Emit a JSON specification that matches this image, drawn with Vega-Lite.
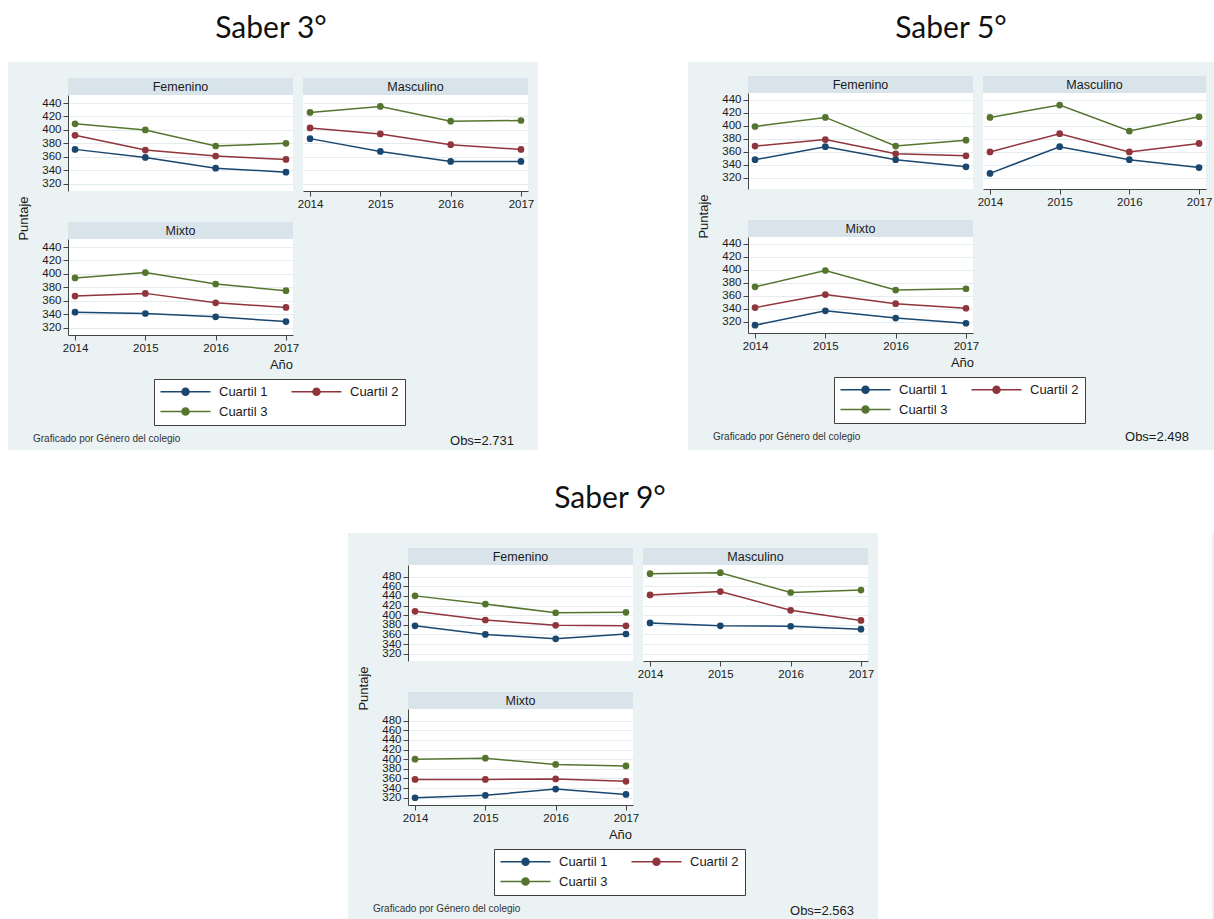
{
"$schema": "https://vega.github.io/schema/vega-lite/v6.json",
"background": "#eaf2f3",
"padding": 0,
"config": {
  "view": {"stroke": null},
  "font": "Liberation Sans",
  "title": {"font": "Liberation Sans", "fontWeight": "normal", "color": "#1a1a1a"},
  "axis": {"labelFont": "Liberation Sans", "labelFontSize": 11.5, "labelColor": "#1a1a1a", "titleFont": "Liberation Sans", "titleFontSize": 13, "titleFontWeight": "normal", "titleColor": "#1a1a1a", "domainColor": "#444444", "tickColor": "#444444", "tickSize": 5, "labelPadding": 2, "titlePadding": 11, "gridColor": "#e4ecef", "labelOverlap": false, "labelFlush": false},
  "axisX": {"grid": false},
  "axisY": {"grid": true},
  "legend": {"columns": 2, "direction": "horizontal", "symbolType": "M-5,0H5M-0.7,0A0.7,0.7,0,1,1,0.7,0A0.7,0.7,0,1,1,-0.7,0Z", "symbolSize": 100, "symbolStrokeWidth": 1.5, "symbolOffset": 19, "labelOffset": 27, "labelFontSize": 13, "labelFont": "Liberation Sans", "labelColor": "#1a1a1a", "columnPadding": 20, "rowPadding": 6, "padding": 6, "fillColor": "#ffffff", "strokeColor": "#404040", "labelLimit": 200}
},
"datasets": {
  "s3": [
    {"genero":"Femenino","anio":2014,"cuartil":"Cuartil 1","puntaje":371},{"genero":"Femenino","anio":2015,"cuartil":"Cuartil 1","puntaje":359},{"genero":"Femenino","anio":2016,"cuartil":"Cuartil 1","puntaje":343},{"genero":"Femenino","anio":2017,"cuartil":"Cuartil 1","puntaje":337},
    {"genero":"Femenino","anio":2014,"cuartil":"Cuartil 2","puntaje":392},{"genero":"Femenino","anio":2015,"cuartil":"Cuartil 2","puntaje":370},{"genero":"Femenino","anio":2016,"cuartil":"Cuartil 2","puntaje":361},{"genero":"Femenino","anio":2017,"cuartil":"Cuartil 2","puntaje":356},
    {"genero":"Femenino","anio":2014,"cuartil":"Cuartil 3","puntaje":409},{"genero":"Femenino","anio":2015,"cuartil":"Cuartil 3","puntaje":400},{"genero":"Femenino","anio":2016,"cuartil":"Cuartil 3","puntaje":376},{"genero":"Femenino","anio":2017,"cuartil":"Cuartil 3","puntaje":380},
    {"genero":"Masculino","anio":2014,"cuartil":"Cuartil 1","puntaje":387},{"genero":"Masculino","anio":2015,"cuartil":"Cuartil 1","puntaje":368},{"genero":"Masculino","anio":2016,"cuartil":"Cuartil 1","puntaje":353},{"genero":"Masculino","anio":2017,"cuartil":"Cuartil 1","puntaje":353},
    {"genero":"Masculino","anio":2014,"cuartil":"Cuartil 2","puntaje":403},{"genero":"Masculino","anio":2015,"cuartil":"Cuartil 2","puntaje":394},{"genero":"Masculino","anio":2016,"cuartil":"Cuartil 2","puntaje":378},{"genero":"Masculino","anio":2017,"cuartil":"Cuartil 2","puntaje":371},
    {"genero":"Masculino","anio":2014,"cuartil":"Cuartil 3","puntaje":426},{"genero":"Masculino","anio":2015,"cuartil":"Cuartil 3","puntaje":435},{"genero":"Masculino","anio":2016,"cuartil":"Cuartil 3","puntaje":413},{"genero":"Masculino","anio":2017,"cuartil":"Cuartil 3","puntaje":414},
    {"genero":"Mixto","anio":2014,"cuartil":"Cuartil 1","puntaje":343},{"genero":"Mixto","anio":2015,"cuartil":"Cuartil 1","puntaje":341},{"genero":"Mixto","anio":2016,"cuartil":"Cuartil 1","puntaje":336},{"genero":"Mixto","anio":2017,"cuartil":"Cuartil 1","puntaje":329},
    {"genero":"Mixto","anio":2014,"cuartil":"Cuartil 2","puntaje":367},{"genero":"Mixto","anio":2015,"cuartil":"Cuartil 2","puntaje":371},{"genero":"Mixto","anio":2016,"cuartil":"Cuartil 2","puntaje":357},{"genero":"Mixto","anio":2017,"cuartil":"Cuartil 2","puntaje":350},
    {"genero":"Mixto","anio":2014,"cuartil":"Cuartil 3","puntaje":394},{"genero":"Mixto","anio":2015,"cuartil":"Cuartil 3","puntaje":402},{"genero":"Mixto","anio":2016,"cuartil":"Cuartil 3","puntaje":385},{"genero":"Mixto","anio":2017,"cuartil":"Cuartil 3","puntaje":375}
  ],
  "s5": [
    {"genero":"Femenino","anio":2014,"cuartil":"Cuartil 1","puntaje":348},{"genero":"Femenino","anio":2015,"cuartil":"Cuartil 1","puntaje":368},{"genero":"Femenino","anio":2016,"cuartil":"Cuartil 1","puntaje":348},{"genero":"Femenino","anio":2017,"cuartil":"Cuartil 1","puntaje":337},
    {"genero":"Femenino","anio":2014,"cuartil":"Cuartil 2","puntaje":369},{"genero":"Femenino","anio":2015,"cuartil":"Cuartil 2","puntaje":379},{"genero":"Femenino","anio":2016,"cuartil":"Cuartil 2","puntaje":357},{"genero":"Femenino","anio":2017,"cuartil":"Cuartil 2","puntaje":354},
    {"genero":"Femenino","anio":2014,"cuartil":"Cuartil 3","puntaje":399},{"genero":"Femenino","anio":2015,"cuartil":"Cuartil 3","puntaje":413},{"genero":"Femenino","anio":2016,"cuartil":"Cuartil 3","puntaje":369},{"genero":"Femenino","anio":2017,"cuartil":"Cuartil 3","puntaje":378},
    {"genero":"Masculino","anio":2014,"cuartil":"Cuartil 1","puntaje":327},{"genero":"Masculino","anio":2015,"cuartil":"Cuartil 1","puntaje":368},{"genero":"Masculino","anio":2016,"cuartil":"Cuartil 1","puntaje":348},{"genero":"Masculino","anio":2017,"cuartil":"Cuartil 1","puntaje":336},
    {"genero":"Masculino","anio":2014,"cuartil":"Cuartil 2","puntaje":360},{"genero":"Masculino","anio":2015,"cuartil":"Cuartil 2","puntaje":388},{"genero":"Masculino","anio":2016,"cuartil":"Cuartil 2","puntaje":360},{"genero":"Masculino","anio":2017,"cuartil":"Cuartil 2","puntaje":373},
    {"genero":"Masculino","anio":2014,"cuartil":"Cuartil 3","puntaje":413},{"genero":"Masculino","anio":2015,"cuartil":"Cuartil 3","puntaje":432},{"genero":"Masculino","anio":2016,"cuartil":"Cuartil 3","puntaje":392},{"genero":"Masculino","anio":2017,"cuartil":"Cuartil 3","puntaje":414},
    {"genero":"Mixto","anio":2014,"cuartil":"Cuartil 1","puntaje":315},{"genero":"Mixto","anio":2015,"cuartil":"Cuartil 1","puntaje":337},{"genero":"Mixto","anio":2016,"cuartil":"Cuartil 1","puntaje":326},{"genero":"Mixto","anio":2017,"cuartil":"Cuartil 1","puntaje":318},
    {"genero":"Mixto","anio":2014,"cuartil":"Cuartil 2","puntaje":342},{"genero":"Mixto","anio":2015,"cuartil":"Cuartil 2","puntaje":362},{"genero":"Mixto","anio":2016,"cuartil":"Cuartil 2","puntaje":348},{"genero":"Mixto","anio":2017,"cuartil":"Cuartil 2","puntaje":341},
    {"genero":"Mixto","anio":2014,"cuartil":"Cuartil 3","puntaje":374},{"genero":"Mixto","anio":2015,"cuartil":"Cuartil 3","puntaje":399},{"genero":"Mixto","anio":2016,"cuartil":"Cuartil 3","puntaje":369},{"genero":"Mixto","anio":2017,"cuartil":"Cuartil 3","puntaje":371}
  ],
  "s9": [
    {"genero":"Femenino","anio":2014,"cuartil":"Cuartil 1","puntaje":378},{"genero":"Femenino","anio":2015,"cuartil":"Cuartil 1","puntaje":360},{"genero":"Femenino","anio":2016,"cuartil":"Cuartil 1","puntaje":351},{"genero":"Femenino","anio":2017,"cuartil":"Cuartil 1","puntaje":361},
    {"genero":"Femenino","anio":2014,"cuartil":"Cuartil 2","puntaje":408},{"genero":"Femenino","anio":2015,"cuartil":"Cuartil 2","puntaje":390},{"genero":"Femenino","anio":2016,"cuartil":"Cuartil 2","puntaje":379},{"genero":"Femenino","anio":2017,"cuartil":"Cuartil 2","puntaje":378},
    {"genero":"Femenino","anio":2014,"cuartil":"Cuartil 3","puntaje":440},{"genero":"Femenino","anio":2015,"cuartil":"Cuartil 3","puntaje":423},{"genero":"Femenino","anio":2016,"cuartil":"Cuartil 3","puntaje":405},{"genero":"Femenino","anio":2017,"cuartil":"Cuartil 3","puntaje":406},
    {"genero":"Masculino","anio":2014,"cuartil":"Cuartil 1","puntaje":384},{"genero":"Masculino","anio":2015,"cuartil":"Cuartil 1","puntaje":378},{"genero":"Masculino","anio":2016,"cuartil":"Cuartil 1","puntaje":377},{"genero":"Masculino","anio":2017,"cuartil":"Cuartil 1","puntaje":371},
    {"genero":"Masculino","anio":2014,"cuartil":"Cuartil 2","puntaje":442},{"genero":"Masculino","anio":2015,"cuartil":"Cuartil 2","puntaje":449},{"genero":"Masculino","anio":2016,"cuartil":"Cuartil 2","puntaje":410},{"genero":"Masculino","anio":2017,"cuartil":"Cuartil 2","puntaje":389},
    {"genero":"Masculino","anio":2014,"cuartil":"Cuartil 3","puntaje":486},{"genero":"Masculino","anio":2015,"cuartil":"Cuartil 3","puntaje":488},{"genero":"Masculino","anio":2016,"cuartil":"Cuartil 3","puntaje":447},{"genero":"Masculino","anio":2017,"cuartil":"Cuartil 3","puntaje":452},
    {"genero":"Mixto","anio":2014,"cuartil":"Cuartil 1","puntaje":320},{"genero":"Mixto","anio":2015,"cuartil":"Cuartil 1","puntaje":325},{"genero":"Mixto","anio":2016,"cuartil":"Cuartil 1","puntaje":338},{"genero":"Mixto","anio":2017,"cuartil":"Cuartil 1","puntaje":327},
    {"genero":"Mixto","anio":2014,"cuartil":"Cuartil 2","puntaje":358},{"genero":"Mixto","anio":2015,"cuartil":"Cuartil 2","puntaje":358},{"genero":"Mixto","anio":2016,"cuartil":"Cuartil 2","puntaje":359},{"genero":"Mixto","anio":2017,"cuartil":"Cuartil 2","puntaje":354},
    {"genero":"Mixto","anio":2014,"cuartil":"Cuartil 3","puntaje":400},{"genero":"Mixto","anio":2015,"cuartil":"Cuartil 3","puntaje":402},{"genero":"Mixto","anio":2016,"cuartil":"Cuartil 3","puntaje":389},{"genero":"Mixto","anio":2017,"cuartil":"Cuartil 3","puntaje":386}
  ]
},
"resolve": {"scale": {"color": "independent"}},
"spacing": 0,
"vconcat": [
 {"hconcat": [
   {"width": 542, "height": 62, "view": {"fill": "#ffffff", "stroke": null}, "data": {"values": [{"t": "Saber 3°"}]}, "mark": {"type": "text", "font": "Lato", "fontSize": 30, "color": "#111111", "baseline": "alphabetic", "dy": 7}, "encoding": {"text": {"field": "t", "type": "nominal"}}},
   {"width": 146, "height": 62, "view": {"fill": "#ffffff", "stroke": null}, "data": {"values": []}, "mark": "point"},
   {"width": 526, "height": 62, "view": {"fill": "#ffffff", "stroke": null}, "data": {"values": [{"t": "Saber 5°"}]}, "mark": {"type": "text", "font": "Lato", "fontSize": 30, "color": "#111111", "baseline": "alphabetic", "dy": 7}, "encoding": {"text": {"field": "t", "type": "nominal"}}}
 ], "spacing": 0},
 {"hconcat": [
  {"hconcat": [
  {"width": 8, "height": 388, "view": {"fill": "#ffffff", "stroke": null}, "data": {"values": []}, "mark": "point"},
  {"vconcat": [
    {"width": 1, "height": 1, "data": {"values": []}, "mark": "point"},
    {"vconcat": [
      {"hconcat": [
        {"vconcat": [
          {"width": 225, "height": 17, "view": {"fill": "#d9e4ea", "stroke": null}, "data": {"values": [{"genero": "Femenino"}]}, "mark": {"type": "text", "font": "Liberation Sans", "fontSize": 12.5, "color": "#1a1a1a"}, "encoding": {"text": {"field": "genero", "type": "nominal"}}},
          {"width": 225, "height": 96, "view": {"fill": "#ffffff", "stroke": null}, "data": {"name": "s3"}, "transform": [{"filter": "datum.genero == 'Femenino'"}],
           "encoding": {
             "x": {"field": "anio", "type": "quantitative", "scale": {"domain": [2013.9, 2017.1], "nice": false, "zero": false}, "axis": null},
             "y": {"field": "puntaje", "type": "quantitative", "scale": {"domain": [309, 452], "nice": false, "zero": false}, "axis": {"values": [320,340,360,380,400,420,440], "title": "Puntaje", "titleOpacity": 0}},
             "color": {"field": "cuartil", "type": "nominal", "scale": {"domain": ["Cuartil 1","Cuartil 2","Cuartil 3"], "range": ["#1a476f","#90353b","#55752f"]}, "legend": null}},
           "layer": [{"mark": {"type": "line", "strokeWidth": 1.5}}, {"mark": {"type": "point", "filled": true, "size": 45, "opacity": 1}}]}
        ], "spacing": 0, "bounds": "flush", "resolve": {"scale": {"color": "independent"}}},
        {"vconcat": [
          {"width": 225, "height": 17, "view": {"fill": "#d9e4ea", "stroke": null}, "data": {"values": [{"genero": "Masculino"}]}, "mark": {"type": "text", "font": "Liberation Sans", "fontSize": 12.5, "color": "#1a1a1a"}, "encoding": {"text": {"field": "genero", "type": "nominal"}}},
          {"width": 225, "height": 96, "view": {"fill": "#ffffff", "stroke": null}, "data": {"name": "s3"}, "transform": [{"filter": "datum.genero == 'Masculino'"}],
           "encoding": {
             "x": {"field": "anio", "type": "quantitative", "scale": {"domain": [2013.9, 2017.1], "nice": false, "zero": false}, "axis": {"values": [2014,2015,2016,2017], "format": "d", "title": null}},
             "y": {"field": "puntaje", "type": "quantitative", "scale": {"domain": [309, 452], "nice": false, "zero": false}, "axis": {"values": [320,340,360,380,400,420,440], "title": null, "labels": false, "ticks": false, "domain": false}},
             "color": {"field": "cuartil", "type": "nominal", "scale": {"domain": ["Cuartil 1","Cuartil 2","Cuartil 3"], "range": ["#1a476f","#90353b","#55752f"]}, "legend": null}},
           "layer": [{"mark": {"type": "line", "strokeWidth": 1.5}}, {"mark": {"type": "point", "filled": true, "size": 45, "opacity": 1}}]}
        ], "spacing": 0, "bounds": "flush", "resolve": {"scale": {"color": "independent"}}}
      ], "spacing": 4, "resolve": {"scale": {"color": "independent"}}},
      {"hconcat": [
        {"vconcat": [
          {"width": 225, "height": 17, "view": {"fill": "#d9e4ea", "stroke": null}, "data": {"values": [{"genero": "Mixto"}]}, "mark": {"type": "text", "font": "Liberation Sans", "fontSize": 12.5, "color": "#1a1a1a"}, "encoding": {"text": {"field": "genero", "type": "nominal"}}},
          {"width": 225, "height": 96, "view": {"fill": "#ffffff", "stroke": null}, "data": {"name": "s3"}, "transform": [{"filter": "datum.genero == 'Mixto'"}],
           "title": {"text": "Graficado por Género del colegio", "orient": "bottom", "anchor": "start", "frame": "group", "dx": -35, "baseline": "alphabetic", "offset": 16, "fontSize": 10, "color": "#333333"},
           "encoding": {
             "x": {"field": "anio", "type": "quantitative", "scale": {"domain": [2013.9, 2017.1], "nice": false, "zero": false}, "axis": {"values": [2014,2015,2016,2017], "format": "d", "title": "Año", "titleX": 213, "titlePadding": 5}},
             "y": {"field": "puntaje", "type": "quantitative", "scale": {"domain": [309, 452], "nice": false, "zero": false}, "axis": {"values": [320,340,360,380,400,420,440], "title": "Puntaje", "titleY": -21}},
             "color": {"field": "cuartil", "type": "nominal", "scale": {"domain": ["Cuartil 1","Cuartil 2","Cuartil 3"], "range": ["#1a476f","#90353b","#55752f"]},
               "legend": {"orient": "none", "legendX": 86, "legendY": 140, "title": null}}},
           "layer": [{"mark": {"type": "line", "strokeWidth": 1.5}}, {"mark": {"type": "point", "filled": true, "size": 45, "opacity": 1}}]}
        ], "spacing": 0, "bounds": "flush", "resolve": {"scale": {"color": "independent"}}},
        {"width": 108, "height": 204, "data": {"values": []}, "mark": "point", "title": {"text": "Obs=2.731", "orient": "bottom", "anchor": "end", "frame": "group", "baseline": "alphabetic", "offset": 19, "fontSize": 13, "color": "#1a1a1a"}}
      ], "spacing": 0, "resolve": {"scale": {"color": "independent"}}}
    ], "spacing": -15, "resolve": {"scale": {"color": "independent"}}}
  ], "spacing": 15, "resolve": {"scale": {"color": "independent"}}}
  ], "spacing": 9, "resolve": {"scale": {"color": "independent"}}},
  {"hconcat": [
  {"width": 150, "height": 388, "view": {"fill": "#ffffff", "stroke": null}, "data": {"values": []}, "mark": "point"},
  {"vconcat": [
    {"width": 1, "height": 1, "data": {"values": []}, "mark": "point"},
    {"vconcat": [
      {"hconcat": [
        {"vconcat": [
          {"width": 225, "height": 17, "view": {"fill": "#d9e4ea", "stroke": null}, "data": {"values": [{"genero": "Femenino"}]}, "mark": {"type": "text", "font": "Liberation Sans", "fontSize": 12.5, "color": "#1a1a1a"}, "encoding": {"text": {"field": "genero", "type": "nominal"}}},
          {"width": 225, "height": 96, "view": {"fill": "#ffffff", "stroke": null}, "data": {"name": "s5"}, "transform": [{"filter": "datum.genero == 'Femenino'"}],
           "encoding": {
             "x": {"field": "anio", "type": "quantitative", "scale": {"domain": [2013.9, 2017.1], "nice": false, "zero": false}, "axis": null},
             "y": {"field": "puntaje", "type": "quantitative", "scale": {"domain": [303, 450.5], "nice": false, "zero": false}, "axis": {"values": [320,340,360,380,400,420,440], "title": "Puntaje", "titleOpacity": 0}},
             "color": {"field": "cuartil", "type": "nominal", "scale": {"domain": ["Cuartil 1","Cuartil 2","Cuartil 3"], "range": ["#1a476f","#90353b","#55752f"]}, "legend": null}},
           "layer": [{"mark": {"type": "line", "strokeWidth": 1.5}}, {"mark": {"type": "point", "filled": true, "size": 45, "opacity": 1}}]}
        ], "spacing": 0, "bounds": "flush", "resolve": {"scale": {"color": "independent"}}},
        {"vconcat": [
          {"width": 223, "height": 17, "view": {"fill": "#d9e4ea", "stroke": null}, "data": {"values": [{"genero": "Masculino"}]}, "mark": {"type": "text", "font": "Liberation Sans", "fontSize": 12.5, "color": "#1a1a1a"}, "encoding": {"text": {"field": "genero", "type": "nominal"}}},
          {"width": 223, "height": 96, "view": {"fill": "#ffffff", "stroke": null}, "data": {"name": "s5"}, "transform": [{"filter": "datum.genero == 'Masculino'"}],
           "encoding": {
             "x": {"field": "anio", "type": "quantitative", "scale": {"domain": [2013.9, 2017.1], "nice": false, "zero": false}, "axis": {"values": [2014,2015,2016,2017], "format": "d", "title": null}},
             "y": {"field": "puntaje", "type": "quantitative", "scale": {"domain": [303, 450.5], "nice": false, "zero": false}, "axis": {"values": [320,340,360,380,400,420,440], "title": null, "labels": false, "ticks": false, "domain": false}},
             "color": {"field": "cuartil", "type": "nominal", "scale": {"domain": ["Cuartil 1","Cuartil 2","Cuartil 3"], "range": ["#1a476f","#90353b","#55752f"]}, "legend": null}},
           "layer": [{"mark": {"type": "line", "strokeWidth": 1.5}}, {"mark": {"type": "point", "filled": true, "size": 45, "opacity": 1}}]}
        ], "spacing": 0, "bounds": "flush", "resolve": {"scale": {"color": "independent"}}}
      ], "spacing": 4, "resolve": {"scale": {"color": "independent"}}},
      {"hconcat": [
        {"vconcat": [
          {"width": 225, "height": 17, "view": {"fill": "#d9e4ea", "stroke": null}, "data": {"values": [{"genero": "Mixto"}]}, "mark": {"type": "text", "font": "Liberation Sans", "fontSize": 12.5, "color": "#1a1a1a"}, "encoding": {"text": {"field": "genero", "type": "nominal"}}},
          {"width": 225, "height": 96, "view": {"fill": "#ffffff", "stroke": null}, "data": {"name": "s5"}, "transform": [{"filter": "datum.genero == 'Mixto'"}],
           "title": {"text": "Graficado por Género del colegio", "orient": "bottom", "anchor": "start", "frame": "group", "dx": -35, "baseline": "alphabetic", "offset": 16, "fontSize": 10, "color": "#333333"},
           "encoding": {
             "x": {"field": "anio", "type": "quantitative", "scale": {"domain": [2013.9, 2017.1], "nice": false, "zero": false}, "axis": {"values": [2014,2015,2016,2017], "format": "d", "title": "Año", "titleX": 214, "titlePadding": 5}},
             "y": {"field": "puntaje", "type": "quantitative", "scale": {"domain": [303, 450.5], "nice": false, "zero": false}, "axis": {"values": [320,340,360,380,400,420,440], "title": "Puntaje", "titleY": -21}},
             "color": {"field": "cuartil", "type": "nominal", "scale": {"domain": ["Cuartil 1","Cuartil 2","Cuartil 3"], "range": ["#1a476f","#90353b","#55752f"]},
               "legend": {"orient": "none", "legendX": 86, "legendY": 140, "title": null}}},
           "layer": [{"mark": {"type": "line", "strokeWidth": 1.5}}, {"mark": {"type": "point", "filled": true, "size": 45, "opacity": 1}}]}
        ], "spacing": 0, "bounds": "flush", "resolve": {"scale": {"color": "independent"}}},
        {"width": 103, "height": 204, "data": {"values": []}, "mark": "point", "title": {"text": "Obs=2.498", "orient": "bottom", "anchor": "end", "frame": "group", "baseline": "alphabetic", "offset": 17, "fontSize": 13, "color": "#1a1a1a"}}
      ], "spacing": 0, "resolve": {"scale": {"color": "independent"}}}
    ], "spacing": -15, "resolve": {"scale": {"color": "independent"}}}
  ], "spacing": 13, "resolve": {"scale": {"color": "independent"}}}
  ], "spacing": 9, "resolve": {"scale": {"color": "independent"}}}
 ], "spacing": 4, "resolve": {"scale": {"color": "independent"}}},
 {"width": 1214, "height": 83, "view": {"fill": "#ffffff", "stroke": null}, "data": {"values": [{"t": "Saber 9°"}]}, "mark": {"type": "text", "font": "Lato", "fontSize": 30, "color": "#111111", "baseline": "alphabetic", "dy": 16, "dx": 3}, "encoding": {"text": {"field": "t", "type": "nominal"}}},
 {"hconcat": [
  {"hconcat": [
  {"width": 348, "height": 386, "view": {"fill": "#ffffff", "stroke": null}, "data": {"values": []}, "mark": "point"},
  {"vconcat": [
    {"width": 1, "height": 1, "data": {"values": []}, "mark": "point"},
    {"vconcat": [
      {"hconcat": [
        {"vconcat": [
          {"width": 225, "height": 17, "view": {"fill": "#d9e4ea", "stroke": null}, "data": {"values": [{"genero": "Femenino"}]}, "mark": {"type": "text", "font": "Liberation Sans", "fontSize": 12.5, "color": "#1a1a1a"}, "encoding": {"text": {"field": "genero", "type": "nominal"}}},
          {"width": 225, "height": 96, "view": {"fill": "#ffffff", "stroke": null}, "data": {"name": "s9"}, "transform": [{"filter": "datum.genero == 'Femenino'"}],
           "encoding": {
             "x": {"field": "anio", "type": "quantitative", "scale": {"domain": [2013.9, 2017.1], "nice": false, "zero": false}, "axis": null},
             "y": {"field": "puntaje", "type": "quantitative", "scale": {"domain": [305, 504], "nice": false, "zero": false}, "axis": {"values": [320,340,360,380,400,420,440,460,480], "title": "Puntaje", "titleOpacity": 0}},
             "color": {"field": "cuartil", "type": "nominal", "scale": {"domain": ["Cuartil 1","Cuartil 2","Cuartil 3"], "range": ["#1a476f","#90353b","#55752f"]}, "legend": null}},
           "layer": [{"mark": {"type": "line", "strokeWidth": 1.5}}, {"mark": {"type": "point", "filled": true, "size": 45, "opacity": 1}}]}
        ], "spacing": 0, "bounds": "flush", "resolve": {"scale": {"color": "independent"}}},
        {"vconcat": [
          {"width": 225, "height": 17, "view": {"fill": "#d9e4ea", "stroke": null}, "data": {"values": [{"genero": "Masculino"}]}, "mark": {"type": "text", "font": "Liberation Sans", "fontSize": 12.5, "color": "#1a1a1a"}, "encoding": {"text": {"field": "genero", "type": "nominal"}}},
          {"width": 225, "height": 96, "view": {"fill": "#ffffff", "stroke": null}, "data": {"name": "s9"}, "transform": [{"filter": "datum.genero == 'Masculino'"}],
           "encoding": {
             "x": {"field": "anio", "type": "quantitative", "scale": {"domain": [2013.9, 2017.1], "nice": false, "zero": false}, "axis": {"values": [2014,2015,2016,2017], "format": "d", "title": null}},
             "y": {"field": "puntaje", "type": "quantitative", "scale": {"domain": [305, 504], "nice": false, "zero": false}, "axis": {"values": [320,340,360,380,400,420,440,460,480], "title": null, "labels": false, "ticks": false, "domain": false}},
             "color": {"field": "cuartil", "type": "nominal", "scale": {"domain": ["Cuartil 1","Cuartil 2","Cuartil 3"], "range": ["#1a476f","#90353b","#55752f"]}, "legend": null}},
           "layer": [{"mark": {"type": "line", "strokeWidth": 1.5}}, {"mark": {"type": "point", "filled": true, "size": 45, "opacity": 1}}]}
        ], "spacing": 0, "bounds": "flush", "resolve": {"scale": {"color": "independent"}}}
      ], "spacing": 4, "resolve": {"scale": {"color": "independent"}}},
      {"hconcat": [
        {"vconcat": [
          {"width": 225, "height": 17, "view": {"fill": "#d9e4ea", "stroke": null}, "data": {"values": [{"genero": "Mixto"}]}, "mark": {"type": "text", "font": "Liberation Sans", "fontSize": 12.5, "color": "#1a1a1a"}, "encoding": {"text": {"field": "genero", "type": "nominal"}}},
          {"width": 225, "height": 96, "view": {"fill": "#ffffff", "stroke": null}, "data": {"name": "s9"}, "transform": [{"filter": "datum.genero == 'Mixto'"}],
           "title": {"text": "Graficado por Género del colegio", "orient": "bottom", "anchor": "start", "frame": "group", "dx": -35, "baseline": "alphabetic", "offset": 16, "fontSize": 10, "color": "#333333"},
           "encoding": {
             "x": {"field": "anio", "type": "quantitative", "scale": {"domain": [2013.9, 2017.1], "nice": false, "zero": false}, "axis": {"values": [2014,2015,2016,2017], "format": "d", "title": "Año", "titleX": 212, "titlePadding": 5}},
             "y": {"field": "puntaje", "type": "quantitative", "scale": {"domain": [305, 504], "nice": false, "zero": false}, "axis": {"values": [320,340,360,380,400,420,440,460,480], "title": "Puntaje", "titleY": -21}},
             "color": {"field": "cuartil", "type": "nominal", "scale": {"domain": ["Cuartil 1","Cuartil 2","Cuartil 3"], "range": ["#1a476f","#90353b","#55752f"]},
               "legend": {"orient": "none", "legendX": 86, "legendY": 140, "title": null}}},
           "layer": [{"mark": {"type": "line", "strokeWidth": 1.5}}, {"mark": {"type": "point", "filled": true, "size": 45, "opacity": 1}}]}
        ], "spacing": 0, "bounds": "flush", "resolve": {"scale": {"color": "independent"}}},
        {"width": 108, "height": 204, "data": {"values": []}, "mark": "point", "title": {"text": "Obs=2.563", "orient": "bottom", "anchor": "end", "frame": "group", "baseline": "alphabetic", "offset": 19, "fontSize": 13, "color": "#1a1a1a"}}
      ], "spacing": 0, "resolve": {"scale": {"color": "independent"}}}
    ], "spacing": -15, "resolve": {"scale": {"color": "independent"}}}
  ], "spacing": 14, "resolve": {"scale": {"color": "independent"}}}
  ], "spacing": 9, "resolve": {"scale": {"color": "independent"}}},
  {"width": 334, "height": 386, "view": {"fill": "#ffffff", "stroke": null}, "data": {"values": []}, "mark": "point"}
 ], "spacing": 4, "resolve": {"scale": {"color": "independent"}}}
]
}
